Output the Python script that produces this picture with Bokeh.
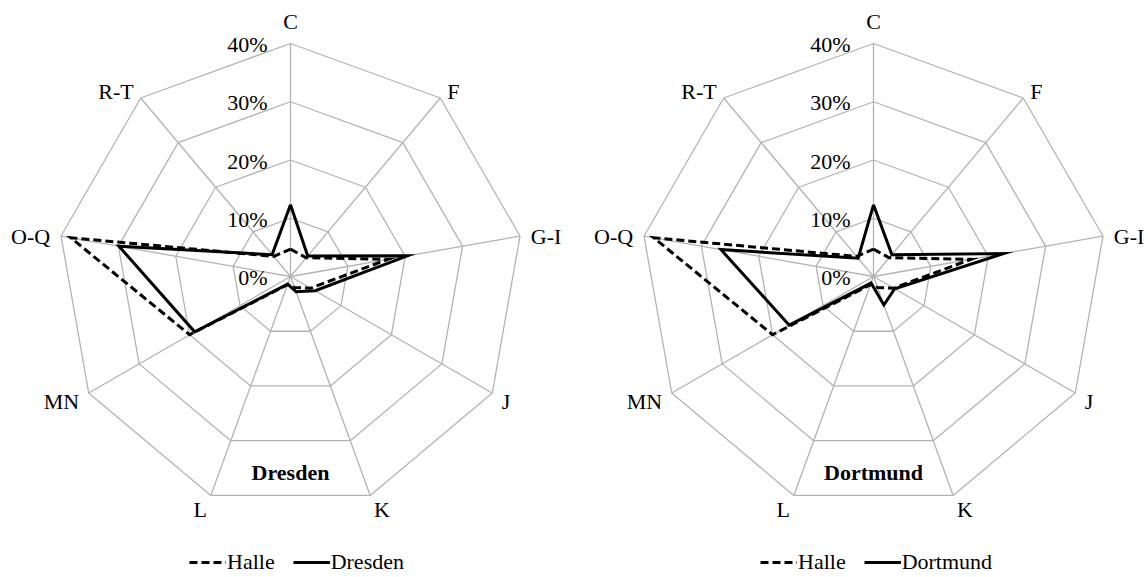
import numpy as np
from bokeh.plotting import figure
from bokeh.layouts import row
from bokeh.models import Range1d, Legend, LegendItem
from bokeh.core.properties import value
from bokeh.embed import file_html
from bokeh.resources import INLINE

# ---- data (shares in %) ----
categories = ["C", "F", "G-I", "J", "K", "L", "MN", "O-Q", "R-T"]
halle = [4.7, 4.2, 17.0, 4.0, 2.0, 1.5, 20.0, 38.3, 4.5]
dresden = [12.3, 4.6, 20.4, 4.9, 2.8, 1.4, 19.0, 29.9, 4.9]
dortmund = [12.3, 4.9, 22.7, 4.2, 5.2, 1.2, 16.7, 26.6, 4.1]
ring_values = [0, 10, 20, 30, 40]
ring_labels = ["0%", "10%", "20%", "30%", "40%"]

# ---- layout / style ----
R_MAX = 40
S = 5.825           # px per percentage point
W, H = 574, 577
FONT_NAME = "'Liberation Serif', 'Times New Roman', serif"
FONT = value(FONT_NAME)
FS = "22px"
GRID = "#b3b3b3"
TITLE_Y = -33.6


def make_chart(name, values, cx_px, cy_px, legend_x):
    p = figure(width=W, height=H, output_backend="svg", toolbar_location=None,
               x_range=Range1d(-cx_px / S, (W - cx_px) / S),
               y_range=Range1d(-(H - cy_px) / S, cy_px / S),
               min_border=0, min_border_left=0, min_border_right=0,
               min_border_top=0, min_border_bottom=0)
    p.axis.visible = False
    p.grid.visible = False
    p.outline_line_color = None
    p.background_fill_color = "white"

    n = len(categories)
    theta = np.arange(n) * 2 * np.pi / n
    sn, cs = np.sin(theta), np.cos(theta)

    # rings
    xs, ys = [], []
    for v in ring_values[1:]:
        xs.append(list(np.append(v * sn, v * sn[0])))
        ys.append(list(np.append(v * cs, v * cs[0])))
    p.multi_line(xs, ys, line_color=GRID, line_width=1.3)
    # spokes
    p.multi_line([[0, R_MAX * a] for a in sn], [[0, R_MAX * b] for b in cs],
                 line_color=GRID, line_width=1.3)

    def closed(vals):
        v = np.array(vals, dtype=float)
        return np.append(v * sn, v[0] * sn[0]), np.append(v * cs, v[0] * cs[0])

    hx, hy = closed(halle)
    r1 = p.line(hx, hy, line_color="black", line_width=3, line_dash="8 4",
                line_join="miter")
    vx, vy = closed(values)
    r2 = p.line(vx, vy, line_color="black", line_width=3, line_join="miter")

    # percent labels
    p.text(x=[0] * len(ring_values), y=ring_values, text=ring_labels,
           text_align="right", text_baseline="middle", x_offset=-23, y_offset=1,
           text_font=FONT, text_font_size=FS, text_color="black")

    # category labels
    for i, cat in enumerate(categories):
        s_, c_ = sn[i], cs[i]
        if s_ > 0.2:
            align = "left"
        elif s_ < -0.2:
            align = "right"
        else:
            align = "center"
        if abs(s_) < 0.2:
            yo = -22 * c_
        else:
            yo = -12.2 * c_ + 2.5
        xo = 11 * s_
        p.text(x=[R_MAX * s_], y=[R_MAX * c_], text=[cat], text_align=align,
               text_baseline="middle", x_offset=xo, y_offset=yo,
               text_font=FONT, text_font_size=FS, text_color="black")

    # title
    p.text(x=[0], y=[TITLE_Y], text=[name], text_align="center",
           text_baseline="middle", text_font=FONT, text_font_size=FS,
           text_font_style="bold", text_color="black")

    legend = Legend(items=[LegendItem(label="Halle", renderers=[r1]),
                           LegendItem(label=name, renderers=[r2])],
                    orientation="horizontal", location=(legend_x, 2),
                    glyph_width=37, glyph_height=16, label_height=16,
                    label_standoff=1, spacing=18, padding=0, margin=0,
                    border_line_color=None, background_fill_alpha=0,
                    label_text_font=FONT_NAME,
                    label_text_font_size=FS, label_text_color="black")
    p.add_layout(legend)
    return p


p1 = make_chart("Dresden", dresden, 290, 276, 189)
p2 = make_chart("Dortmund", dortmund, 299, 276, 186)
layout = row(p1, p2)

open("out.html", "w").write(file_html(layout, INLINE))
